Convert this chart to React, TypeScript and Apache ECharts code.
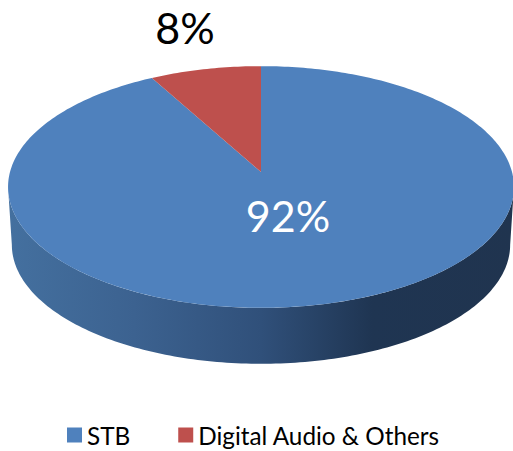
import React, { useEffect, useRef } from "react";
import * as echarts from "echarts";

const categories = ["STB", "Digital Audio & Others"];
const shareValues = [92, 8];
const shareLabels = ["92%", "8%"];

const FONT = "Lato, Carlito, sans-serif";
const CX = 261, CY = 172, RX = 251, RY = 119, PERSP = 0.124, DEPTH = 58, BASE = 0.985;
const total = shareValues.reduce((a, b) => a + b, 0);

const project = (theta: number, scale = 1, dy = 0): number[] => {
  const x = Math.sin(theta), y = Math.cos(theta);
  const d = 1 + PERSP * y;
  return [CX + (RX * x * scale) / d, CY - (RY * y * scale) / d + dy];
};

const arcPoints = (a: number, b: number, scale = 1, dy = 0): number[][] => {
  const n = Math.max(2, Math.ceil((Math.abs(b - a) * 180) / Math.PI));
  const pts: number[][] = [];
  for (let i = 0; i <= n; i++) pts.push(project(a + ((b - a) * i) / n, scale, dy));
  return pts;
};

const wallGradient = () =>
  new echarts.graphic.LinearGradient(0, 0, 1, 0, [
    { offset: 0, color: "#44709F" },
    { offset: 0.25, color: "#3C6290" },
    { offset: 0.5, color: "#30507A" },
    { offset: 0.72, color: "#1F3552" },
    { offset: 1, color: "#20344F" },
  ]);

const labelPos = [
  [288, 215],
  [185, 27],
];
const labelColors = ["#FFFFFF", "#000000"];
const sliceColors = ["#4F81BD", "#BE504D"];

const renderSlice = (index: number) => (_params: any, api: any) => {
  const before = shareValues.slice(0, index).reduce((a, b) => a + b, 0);
  const start = (before / total) * Math.PI * 2;
  const end = start + (api.value(0) / total) * Math.PI * 2;
  const children: any[] = [];

  const frontA = Math.acos(-PERSP);
  const frontB = Math.PI * 2 - frontA;
  const a = Math.max(start, frontA);
  const b = Math.min(end, frontB);
  if (b > a) {
    const wall = arcPoints(a, b).concat(arcPoints(b, a, BASE, DEPTH));
    children.push({
      type: "polygon",
      shape: { points: wall },
      style: { fill: wallGradient() },
    });
  }
  children.push({
    type: "polygon",
    shape: { points: [[CX, CY], ...arcPoints(start, end)] },
    style: { fill: sliceColors[index] },
  });
  return { type: "group", children };
};

const renderLabel = (index: number) => () => ({
  type: "text",
  x: labelPos[index][0],
  y: labelPos[index][1],
  z2: 100,
  style: {
    text: shareLabels[index],
    fill: labelColors[index],
    font: `43px ${FONT}`,
    textAlign: "center",
    textVerticalAlign: "middle",
  },
});

export default function App() {
  const ref = useRef<HTMLDivElement>(null);
  useEffect(() => {
    document.body.style.margin = "0";
    const chart = echarts.init(ref.current!, undefined, { renderer: "svg" });
    chart.setOption({
      animation: false,
      backgroundColor: "#FFFFFF",
      color: sliceColors,
      legend: {
        left: 67,
        top: 423,
        padding: 0,
        icon: "rect",
        itemWidth: 15,
        itemHeight: 15,
        itemGap: 48,
        selectedMode: false,
        data: categories,
        textStyle: { fontFamily: FONT, fontSize: 24.3, color: "#000000", padding: [0, 0, 0, 0] },
      },
      series: [
        ...categories.map((name, i) => ({
          type: "custom",
          name,
          coordinateSystem: "none",
          renderItem: renderSlice(i),
          data: [[shareValues[i]]],
          itemStyle: { color: sliceColors[i] },
          silent: true,
          z: 2,
        })),
        ...categories.map((name, i) => ({
          type: "custom",
          name: name + " label",
          coordinateSystem: "none",
          renderItem: renderLabel(i),
          data: [[shareValues[i]]],
          silent: true,
          z: 5,
        })),
      ],
    });
    return () => chart.dispose();
  }, []);
  return <div ref={ref} style={{ width: 513, height: 451, overflow: "hidden" }} />;
}
